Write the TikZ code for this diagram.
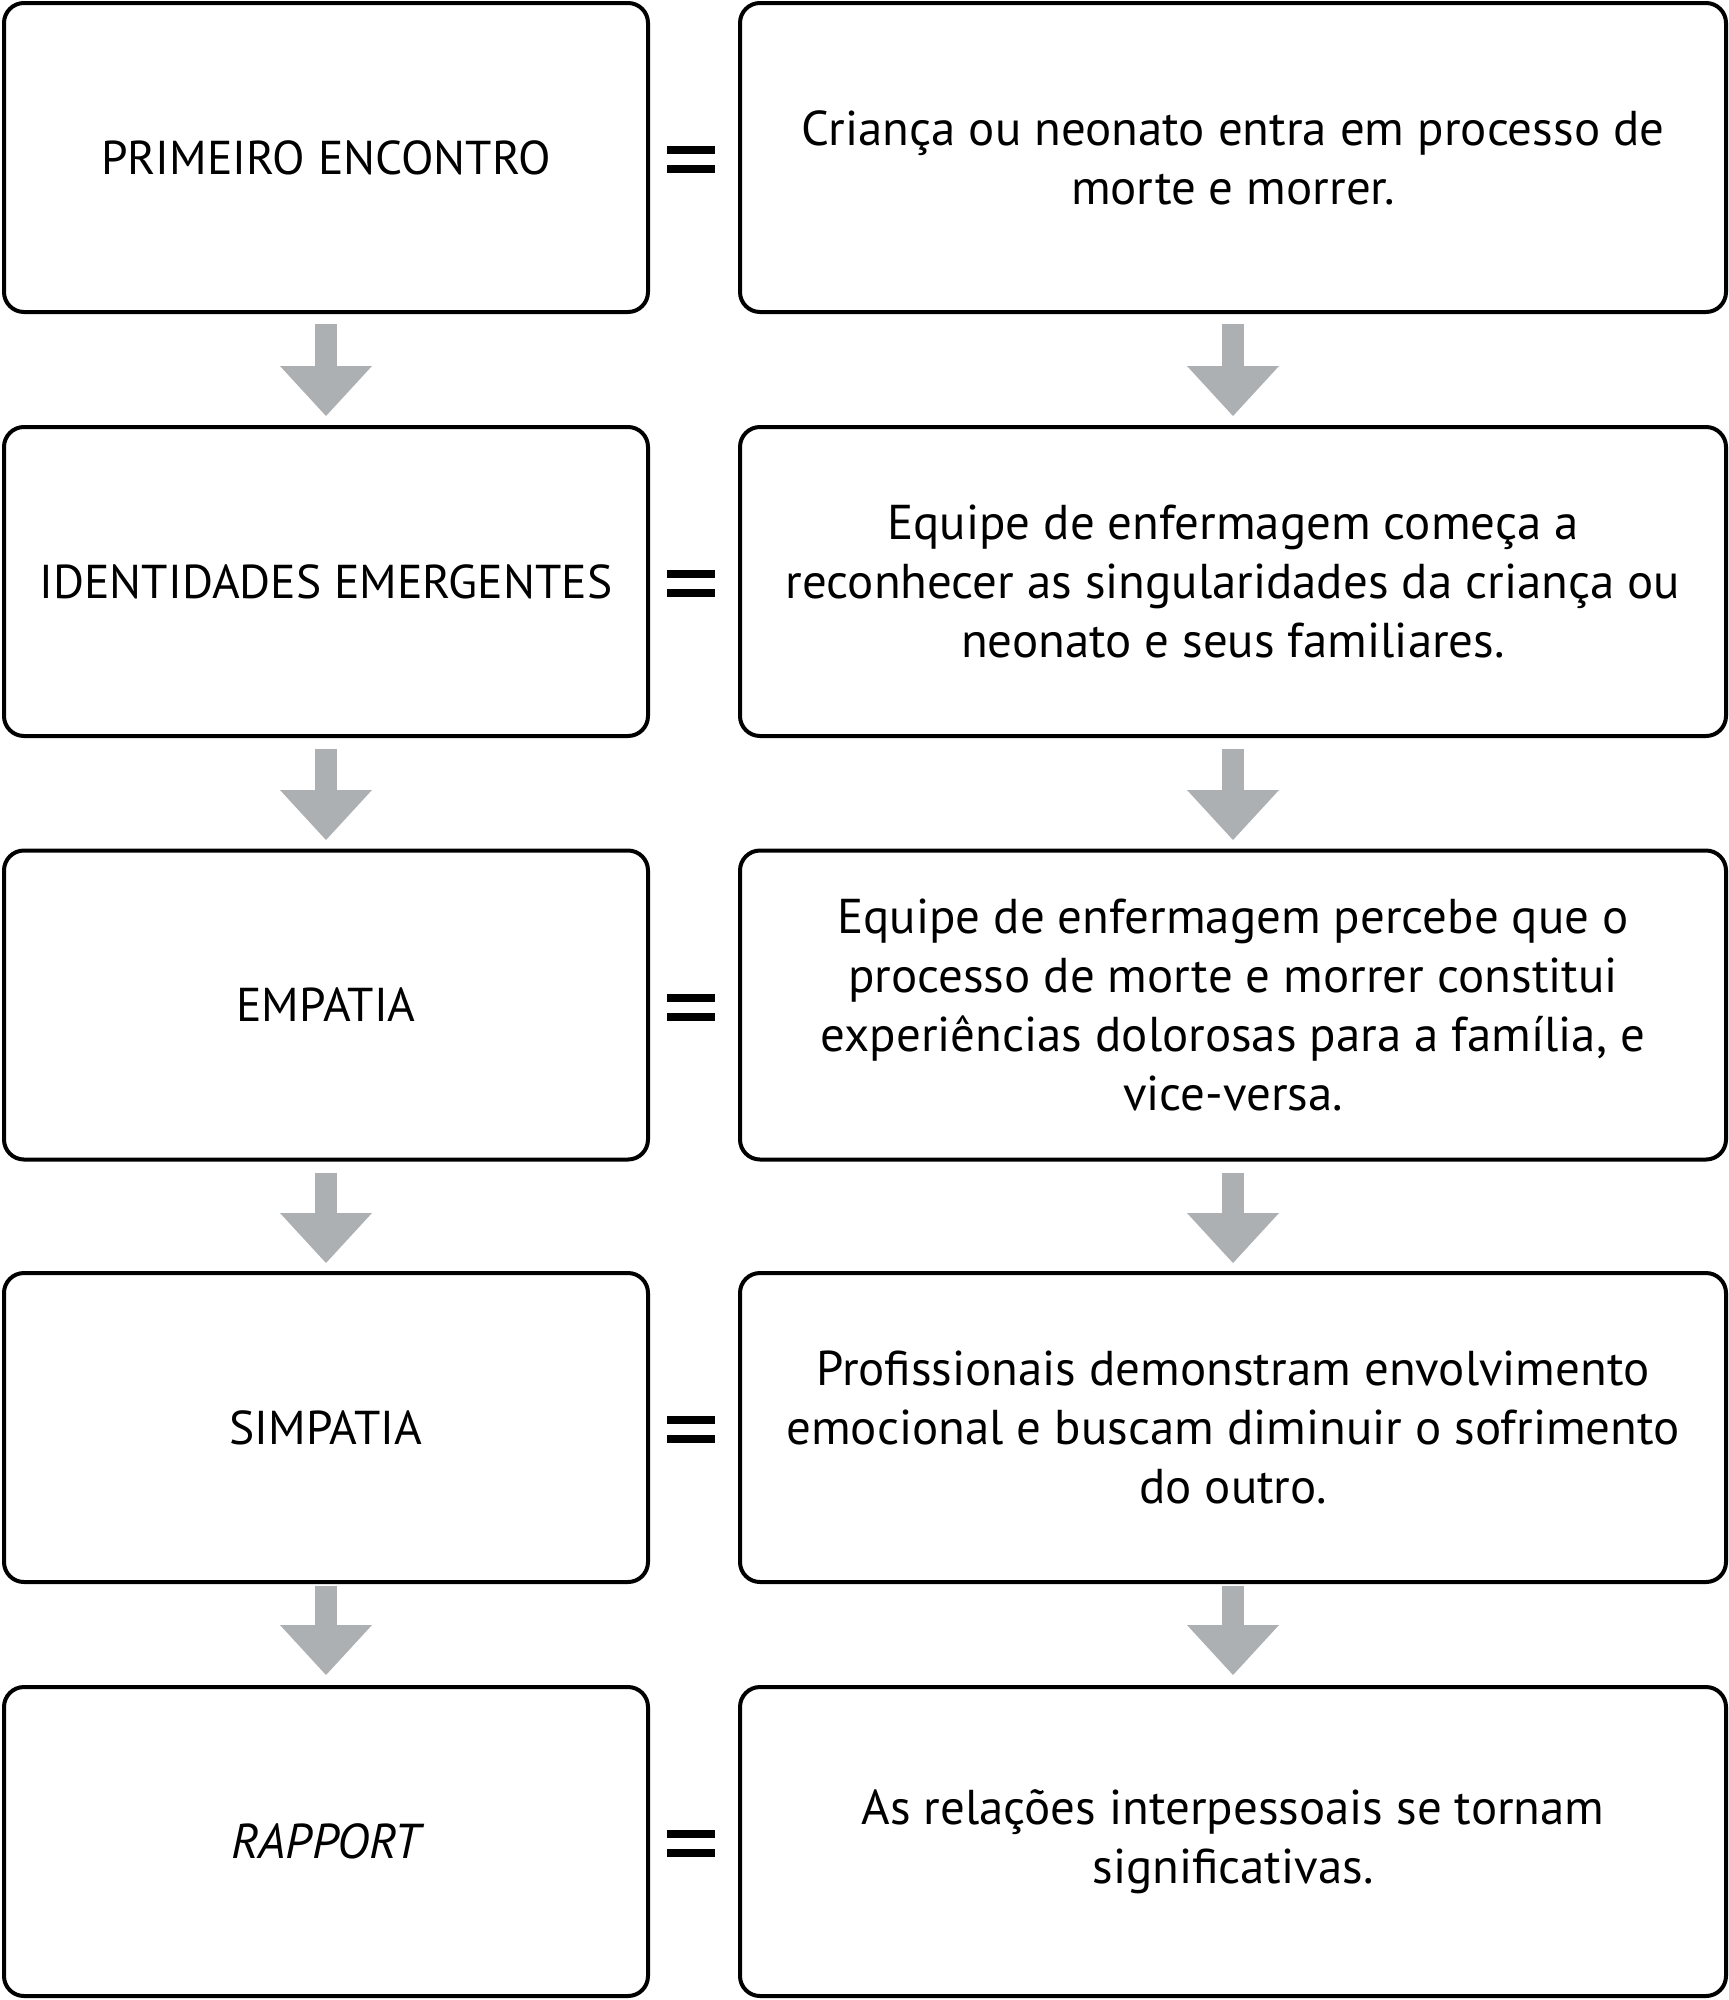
\documentclass[tikz,border=0pt]{standalone}
\usepackage{fontspec}
\setmainfont{PT Sans}
\usetikzlibrary{arrows.meta,calc}
\definecolor{arrowgray}{HTML}{ADB0B3}
\newcommand\eqbars[1]{%
  \fill[black] ([shift={(-27,-11.5)}]#1) rectangle ([shift={(21,-3.5)}]#1);
  \fill[black] ([shift={(-27,7.5)}]#1) rectangle ([shift={(21,15.5)}]#1);}
\begin{document}
\begin{tikzpicture}[x=1pt,y=-1pt,
  box/.style={draw=black, line width=4pt, rounded corners=20pt, align=center,
    inner sep=0pt},
  lbox/.style={box, minimum width=644pt, minimum height=309pt,
    font=\fontsize{47.5}{59}\selectfont},
  rbox/.style={box, minimum width=986pt, minimum height=309pt,
    font=\fontsize{48.9}{59}\selectfont},
  flow/.style={draw=arrowgray, line width=22pt,
    -{Triangle[width=92pt,length=50pt,line width=0pt,fill=arrowgray]}}]
\fill[white] (0,0) rectangle (1729,2000);
\useasboundingbox (0,0) rectangle (1729,2000);

\node[lbox] (L1) at (326,157.5) {PRIMEIRO ENCONTRO};
\node[rbox] (R1) at (1233,157.5) {Criança ou neonato entra em processo de\\morte e morrer.};
\node[lbox] (L2) at (326,581.5) {IDENTIDADES EMERGENTES};
\node[rbox] (R2) at (1233,581.5) {Equipe de enfermagem começa a\\reconhecer as singularidades da criança ou\\neonato e seus familiares.};
\node[lbox] (L3) at (326,1005) {EMPATIA};
\node[rbox] (R3) at (1233,1005) {Equipe de enfermagem percebe que o\\processo de morte e morrer constitui\\experiências dolorosas para a família, e\\vice-versa.};
\node[lbox] (L4) at (326,1427.5) {SIMPATIA};
\node[rbox] (R4) at (1233,1427.5) {Profissionais demonstram envolvimento\\emocional e buscam diminuir o sofrimento\\do outro.};
\node[lbox, font=\fontsize{49}{59}\selectfont\itshape] (L5) at (326,1841.5) {RAPPORT};
\node[rbox] (R5) at (1233,1841.5) {As relações interpessoais se tornam\\significativas.};

\foreach \i in {1,...,5}{
  \coordinate (E\i) at ($(L\i.east)!0.5!(R\i.west)$);
  \eqbars{E\i}
}

\draw[flow, shorten <=10pt, shorten >=9pt] (L1.south) -- (L2.north);
\draw[flow, shorten <=10pt, shorten >=9pt] (R1.south) -- (R2.north);
\draw[flow, shorten <=11pt, shorten >=8.5pt] (L2.south) -- (L3.north);
\draw[flow, shorten <=11pt, shorten >=8.5pt] (R2.south) -- (R3.north);
\draw[flow, shorten <=11pt, shorten >=8pt] (L3.south) -- (L4.north);
\draw[flow, shorten <=11pt, shorten >=8pt] (R3.south) -- (R4.north);
\draw[flow, shorten <=2pt, shorten >=10pt] (L4.south) -- (L5.north);
\draw[flow, shorten <=2pt, shorten >=10pt] (R4.south) -- (R5.north);
\end{tikzpicture}
\end{document}
